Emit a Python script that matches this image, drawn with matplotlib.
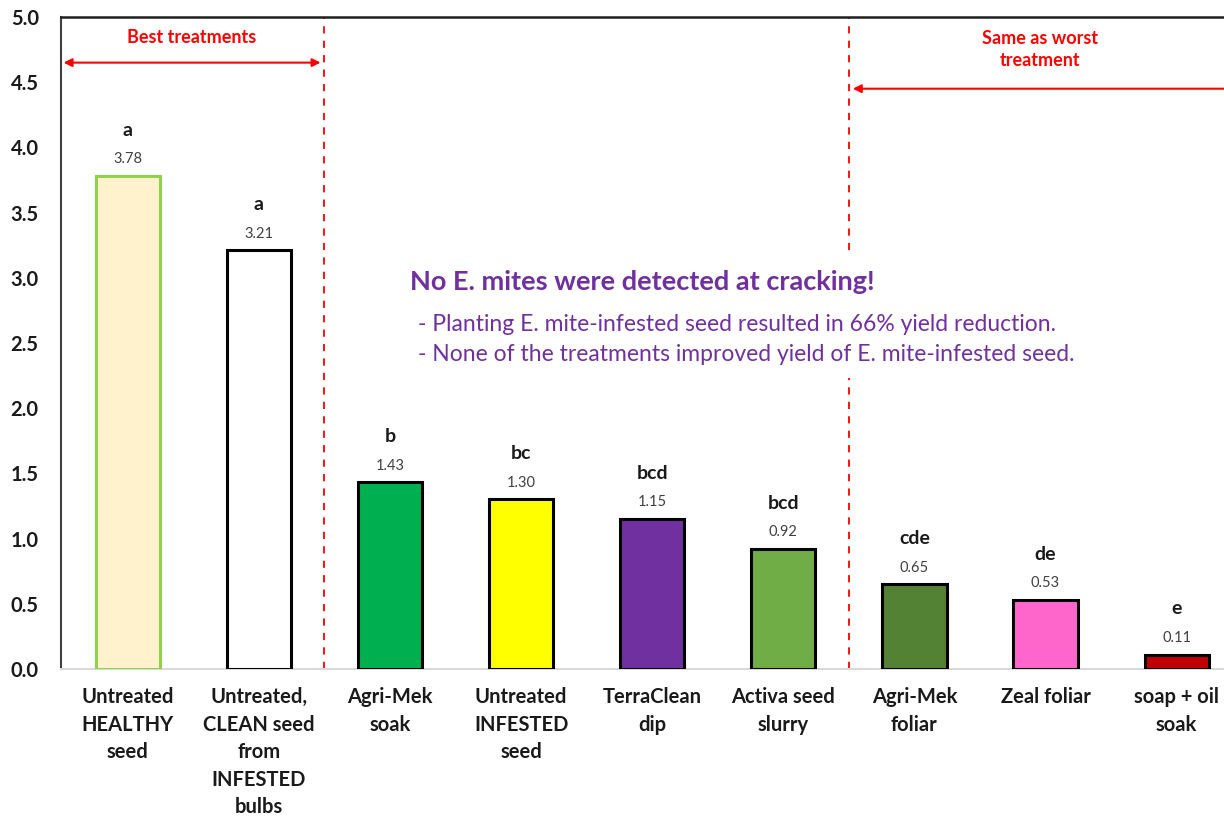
import numpy as np
import matplotlib.pyplot as plt
from matplotlib.patches import Rectangle

plt.rcParams['font.family'] = ['Lato', 'DejaVu Sans']

# data
categories = ['Untreated\nHEALTHY\nseed', 'Untreated,\nCLEAN seed\nfrom\nINFESTED\nbulbs',
              'Agri-Mek\nsoak', 'Untreated\nINFESTED\nseed', 'TerraClean\ndip',
              'Activa seed\nslurry', 'Agri-Mek\nfoliar', 'Zeal foliar', 'soap + oil\nsoak']
yields = [3.78, 3.21, 1.43, 1.30, 1.15, 0.92, 0.65, 0.53, 0.11]
letters = ['a', 'a', 'b', 'bc', 'bcd', 'bcd', 'cde', 'de', 'e']
fill_colors = ['#FFF2CC', '#FFFFFF', '#00B050', '#FFFF00', '#7030A0',
               '#70AD47', '#548235', '#FF66CC', '#C00000']
edge_colors = ['#92D050'] + ['#000000'] * 8
yticks = [0.0, 0.5, 1.0, 1.5, 2.0, 2.5, 3.0, 3.5, 4.0, 4.5, 5.0]

purple = '#7030A0'
red = '#FF0000'

fig = plt.figure(figsize=(12.24, 8.17), dpi=100)
ax = fig.add_axes([0.0498, 0.1812, 0.964, 0.798])

x = np.arange(len(categories))
ax.bar(x, yields, width=0.49, color=fill_colors, edgecolor=edge_colors, linewidth=2.2, zorder=3)

for xi, v, lt in zip(x, yields, letters):
    ax.annotate(f'{v:.2f}', (xi, v), xytext=(0, 12), textcoords='offset points',
                ha='center', va='center', fontsize=10.5, color='#404040')
    ax.annotate(lt, (xi, v), xytext=(0, 33), textcoords='offset points',
                ha='center', va='center', fontsize=14, fontweight='bold', color='#1a1a1a')

ax.set_xlim(-0.51, 8.49)
ax.set_ylim(0, 5)
ax.set_yticks(yticks)
ax.set_yticklabels([f'{t:.1f}' for t in yticks], fontsize=14.5, fontweight='bold', color='#1a1a1a')
ax.set_xticks(x)
ax.set_xticklabels(categories, fontsize=14.5, fontweight='bold', color='#1a1a1a', linespacing=1.47)
ax.tick_params(axis='y', length=0, pad=16)
ax.tick_params(axis='x', length=0, pad=13)

ax.spines['right'].set_visible(False)
ax.spines['left'].set_color('#404040')
ax.spines['left'].set_linewidth(1.5)
ax.spines['top'].set_color('#202020')
ax.spines['top'].set_linewidth(1.8)
ax.spines['bottom'].set_color('#D9D9D9')
ax.spines['bottom'].set_linewidth(1.5)

# group separators
for xv in [1.5, 5.5]:
    ax.plot([xv, xv], [0, 5], color=red, linestyle=(0, (4, 4)), linewidth=1.3, zorder=2)

ax.annotate('', xy=(-0.49, 4.65), xytext=(1.47, 4.65),
            arrowprops=dict(arrowstyle='<|-|>', color=red, lw=1.5, mutation_scale=12,
                            shrinkA=0, shrinkB=0))
ax.text(0.49, 4.84, 'Best treatments', color=red, fontsize=13, fontweight='bold',
        ha='center', va='center')

ax.annotate('', xy=(5.53, 4.45), xytext=(8.6, 4.45),
            arrowprops=dict(arrowstyle='-|>', color=red, lw=1.5, mutation_scale=12,
                            shrinkA=0, shrinkB=0))
ax.text(6.96, 4.75, 'Same as worst\ntreatment', color=red, fontsize=13, fontweight='bold',
        ha='center', va='center', linespacing=1.3)

# text box (white background hides the dashed line)
ax.add_patch(Rectangle((2.11, 2.23), 5.42, 0.96, facecolor='white', edgecolor='none', zorder=4))
ax.text(2.15, 2.97, 'No E. mites were detected at cracking!', color=purple,
        fontsize=19.5, fontweight='bold', ha='left', va='center', zorder=5)
ax.text(2.21, 2.64, '- Planting E. mite-infested seed resulted in 66% yield reduction.',
        color=purple, fontsize=16.5, ha='left', va='center', zorder=5)
ax.text(2.21, 2.41, '- None of the treatments improved yield of E. mite-infested seed.',
        color=purple, fontsize=16.5, ha='left', va='center', zorder=5)

fig.savefig('out.png', dpi=100)
